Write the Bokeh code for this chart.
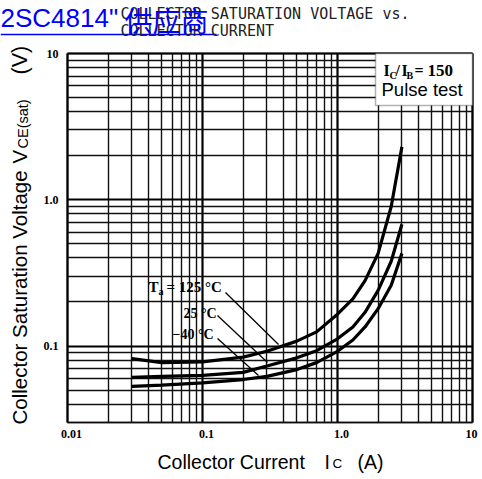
import math
from bokeh.plotting import figure
from bokeh.models import FixedTicker, Label, BoxAnnotation
from bokeh.core.properties import value
from bokeh.embed import file_html
from bokeh.resources import INLINE

# ---------------- data ----------------
ic = [0.03, 0.05, 0.1, 0.2, 0.3, 0.5, 0.7, 1.0, 1.3, 1.6, 2.0, 2.5, 3.0]
v_125 = [0.082, 0.077, 0.078, 0.084, 0.092, 0.108, 0.125, 0.165, 0.21, 0.28, 0.43, 0.9, 2.3]
v_25 = [0.061, 0.062, 0.063, 0.066, 0.073, 0.083, 0.093, 0.112, 0.135, 0.17, 0.24, 0.38, 0.68]
v_m40 = [0.053, 0.054, 0.056, 0.059, 0.062, 0.069, 0.077, 0.092, 0.11, 0.135, 0.18, 0.26, 0.43]

x_major = [0.01, 0.1, 1.0, 10.0]
x_major_labels = ["0.01", "0.1", "1.0", "10"]
x_minor = [m * d for d in (0.01, 0.1, 1.0) for m in range(2, 10)]
y_major = [0.1, 1.0, 10.0]
y_major_labels = ["0.1", "1.0", "10"]
y_minor = [m * d for d in (0.01, 0.1, 1.0) for m in range(2, 10) if m * d > 0.029]

XMIN, XMAX = 0.01, 10.0
YMIN, YMAX = 0.03, 10.0

# chart box in page pixels; the canvas starts at the page's top-left corner
L, R, T, B = 67, 472, 53, 422
FL, FR, FT, FB = 0, 480, 0, 477
W, H = FR - FL, FB - FT


def dx(px):
    return 10 ** (math.log10(XMIN) + (px - L) / (R - L) * math.log10(XMAX / XMIN))


def dy(py):
    return 10 ** (math.log10(YMAX) - (py - T) / (B - T) * math.log10(YMAX / YMIN))


p = figure(width=W, height=H, x_axis_type="log", y_axis_type="log",
           x_range=(dx(FL), dx(FR)), y_range=(dy(FB), dy(FT)),
           output_backend="svg", toolbar_location=None, title=None,
           min_border_left=0, min_border_right=0, min_border_top=0, min_border_bottom=0)
p.background_fill_color = "white"
p.border_fill_color = "white"
p.outline_line_color = None
p.xaxis.visible = False
p.yaxis.visible = False

xt = FixedTicker(ticks=x_major, minor_ticks=x_minor)
yt = FixedTicker(ticks=y_major, minor_ticks=y_minor)
p.xaxis.ticker = xt
p.yaxis.ticker = yt
p.xgrid.ticker = xt
p.ygrid.ticker = yt
p.xgrid.cross_bounds = (YMIN, YMAX)
p.ygrid.cross_bounds = (XMIN, XMAX)
p.xgrid.bounds = (XMIN, XMAX)
p.ygrid.bounds = (YMIN, YMAX)

for g in (p.xgrid[0], p.ygrid[0]):
    g.grid_line_color = "black"
    g.grid_line_width = 2.2
    g.minor_grid_line_color = "#111111"
    g.minor_grid_line_width = 1.4

# curves
for v in (v_125, v_25, v_m40):
    p.line(ic, v, line_color="black", line_width=3.2)

# chart border
p.add_layout(BoxAnnotation(left=XMIN, right=XMAX, bottom=YMIN, top=YMAX,
                           fill_alpha=0.0, line_color="black", line_width=2.5))
# legend box
p.add_layout(BoxAnnotation(left=dx(375), bottom=dy(105), right=XMAX, top=YMAX,
                           fill_color="white", fill_alpha=1.0,
                           line_color="black", line_width=1.5))

# tick labels, placed through the scales at the tick values
SER = "Liberation Serif"
x_label_shift = [4, 4, 4, -1]
p.text(x=x_major, y=[dy(429)] * len(x_major), text=x_major_labels, x_offset=x_label_shift,
       text_align="center", text_baseline="top", text_font=value(SER),
       text_font_size="12px", text_font_style="bold", text_color="black")
p.text(x=[dx(58)] * len(y_major), y=y_major, text=y_major_labels,
       text_align="right", text_baseline="middle", text_font=value(SER),
       text_font_size="12px", text_font_style="bold", text_color="black")


def lab(px, py, text, size, font="Liberation Sans", style="normal", color="black",
        angle=0.0, align="left", baseline="middle"):
    p.add_layout(Label(x=dx(px), y=dy(py), text=text, text_font=font,
                       text_font_size=f"{size}px", text_font_style=style,
                       text_color=color, angle=angle, text_align=align,
                       text_baseline=baseline))


# legend texts
lab(383, 70, "I", 16, SER, "bold")
lab(389, 75, "C", 10, SER, "bold")
lab(395, 70, "/", 16, SER, "bold")
lab(401, 70, "I", 16, SER, "bold")
lab(406, 75, "B", 10, SER, "bold")
lab(414, 70, "=", 16, SER, "bold")
lab(427, 70, "150", 17, SER, "bold")
lab(381, 89, "Pulse test", 18.5)

# temperature annotations
lab(148, 286.5, "T", 15, SER, "bold")
lab(158, 291, "a", 10, SER, "bold")
lab(166, 286.5, "= 125 °C", 15, SER, "bold")
lab(183, 312.5, "25 °C", 14, SER, "bold")
lab(172, 333.5, "\u221240 °C", 14, SER, "bold")

lead_x0 = [dx(225), dx(217), dx(217)]
lead_y0 = [dy(292), dy(315), dy(338)]
lead_x1 = [dx(278), dx(267), dx(258)]
lead_y1 = [dy(344), dy(362), dy(375)]
p.segment(lead_x0, lead_y0, lead_x1, lead_y1, line_color="black", line_width=1.3)

# axis titles
lab(157, 461, "Collector Current", 19.5)
lab(324, 461, "I", 19.5)
lab(332, 463, "C", 13.5)
lab(357, 461, "(A)", 19.5)

lab(19, 424, "Collector Saturation Voltage", 20.5, angle=math.pi / 2)
lab(19, 163, "V", 20.5, angle=math.pi / 2)
lab(22, 148, "CE(sat)", 14.5, angle=math.pi / 2)
lab(19, 74, "(V)", 21.5, angle=math.pi / 2)

# headline texts
lab(120, 13.5, "COLLECTOR SATURATION VOLTAGE vs.", 15, "DejaVu Sans Mono", color="#222222")
lab(120, 30.5, "COLLECTOR CURRENT", 15, "DejaVu Sans Mono", color="#222222")
lab(0, 17, "2SC4814\"", 26, color="#0000ff")
lab(124, 19, "供应商", 28, "Noto Sans CJK SC", color="#0000ff")
p.segment([dx(0)], [dy(34)], [dx(216)], [dy(34)], line_color="#0000ff", line_width=1.5)

open("out.html", "w").write(file_html(p, INLINE))
